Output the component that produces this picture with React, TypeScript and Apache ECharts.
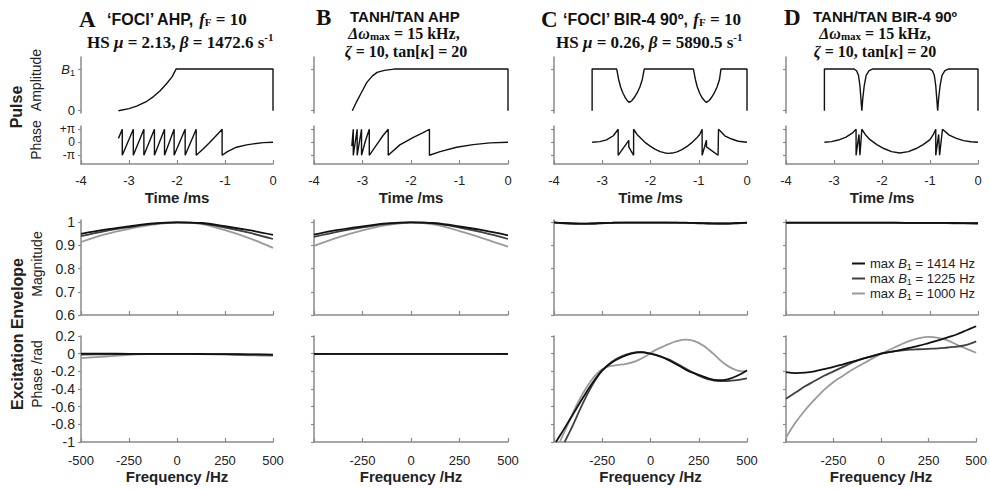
import React, { useEffect, useRef } from 'react';
import * as echarts from 'echarts';

const SANS = '"Liberation Sans", Arial, sans-serif';
const SERIF = '"Liberation Serif", "Times New Roman", serif';

// ---- axis ticks ----
const timeTicks = [-4, -3, -2, -1, 0];
const freqTicks = [-500, -250, 0, 250, 500];
const freqLabelsInner = [-250, 0, 250, 500];
const ampTicks = [0, 1];
const pulsePhaseTicks = [-1, 0, 1]; // units of pi
const magTicks = [0.6, 0.7, 0.8, 0.9, 1];
const ephTicks = [-1, -0.8, -0.6, -0.4, -0.2, 0, 0.2];

const names = ['max B1 = 1414 Hz', 'max B1 = 1225 Hz', 'max B1 = 1000 Hz'];
const colors = ['#111111', '#404040', '#9a9a9a'];

// ---- pulse shapes: [time ms, amplitude / B1] and [time ms, phase / pi] ----
const ampA = [[-3.22, 0], [-3.0, 0.05], [-2.84, 0.11], [-2.65, 0.21], [-2.49, 0.34], [-2.35, 0.48], [-2.21, 0.66], [-2.1, 0.82], [-2.02, 1], [0, 1], [0, 0]];
const phA = [[-3.22, 0.3], [-3.14, 1], [-3.14, -1], [-2.91, 1], [-2.91, -1], [-2.69, 1], [-2.69, -1], [-2.47, 1], [-2.47, -1], [-2.26, 1], [-2.26, -1], [-2.06, 1], [-2.06, -1], [-1.83, 1], [-1.83, -1], [-1.6, 1], [-1.6, -1], [-1.45, -0.5], [-1.33, -0.05], [-1.2, 0.45], [-1.06, 1], [-1.06, -1], [-0.95, -0.72], [-0.76, -0.38], [-0.55, -0.2], [-0.41, -0.12], [-0.2, -0.03], [0, 0]];
const ampB = [[-3.21, 0], [-3.12, 0.22], [-3.03, 0.42], [-2.91, 0.68], [-2.8, 0.83], [-2.7, 0.92], [-2.55, 0.97], [-2.35, 1], [0, 1], [0, 0]];
const phB = [[-3.22, -0.3], [-3.19, 1], [-3.19, -1], [-3.11, 1], [-3.11, -1], [-3.02, 1], [-3.02, -1], [-2.94, 0.1], [-2.86, 1], [-2.86, -1], [-2.71, -0.2], [-2.58, 0.5], [-2.47, 1], [-2.47, -1], [-2.23, -0.2], [-1.95, 0.38], [-1.75, 0.74], [-1.62, 1], [-1.62, -1], [-1.4, -0.72], [-1.06, -0.38], [-0.72, -0.18], [-0.37, -0.05], [0, 0]];
const ampC = [[-3.21, 0], [-3.21, 1], [-2.7, 1], [-2.66, 0.75], [-2.62, 0.57], [-2.57, 0.42], [-2.52, 0.31], [-2.48, 0.24], [-2.44, 0.2], [-2.39, 0.24], [-2.34, 0.31], [-2.28, 0.42], [-2.22, 0.57], [-2.17, 0.75], [-2.13, 1], [-1.11, 1], [-1.07, 0.75], [-1.03, 0.57], [-0.98, 0.42], [-0.93, 0.31], [-0.88, 0.24], [-0.84, 0.2], [-0.79, 0.24], [-0.74, 0.31], [-0.68, 0.42], [-0.62, 0.57], [-0.57, 0.75], [-0.54, 1], [0, 1], [0, 0]];
const phC = [[-3.21, 0], [-3.05, 0.05], [-2.91, 0.18], [-2.77, 0.5], [-2.67, 1], [-2.67, -1], [-2.45, 0.15], [-2.45, -0.35], [-2.35, -1], [-2.35, 1], [-2.28, 0.6], [-2.2, 0.3], [-2.1, -0.05], [-2.0, -0.32], [-1.9, -0.55], [-1.8, -0.72], [-1.7, -0.82], [-1.63, -0.85], [-1.55, -0.83], [-1.45, -0.74], [-1.35, -0.57], [-1.25, -0.34], [-1.15, -0.05], [-1.05, 0.3], [-0.98, 0.6], [-0.93, 1], [-0.93, -1], [-0.84, 0.15], [-0.84, -0.35], [-0.6, -1], [-0.59, 1], [-0.46, 0.5], [-0.32, 0.25], [-0.18, 0.08], [0, 0]];
const ampD = [[-3.2, 0], [-3.2, 1], [-2.58, 1], [-2.53, 0.96], [-2.49, 0.85], [-2.46, 0.6], [-2.44, 0.3], [-2.42, 0], [-2.4, 0.3], [-2.37, 0.6], [-2.33, 0.85], [-2.27, 0.96], [-2.2, 1], [-1.0, 1], [-0.95, 0.96], [-0.91, 0.85], [-0.88, 0.6], [-0.86, 0.3], [-0.84, 0], [-0.82, 0.3], [-0.79, 0.6], [-0.75, 0.85], [-0.69, 0.96], [-0.62, 1], [0, 1], [0, 0]];
const phD = [[-3.2, 0], [-3.05, 0.05], [-2.91, 0.17], [-2.75, 0.4], [-2.62, 0.7], [-2.54, 1], [-2.54, -1], [-2.48, 0.6], [-2.46, -1], [-2.42, 1], [-2.35, 0.6], [-2.25, 0.2], [-2.1, -0.2], [-1.95, -0.5], [-1.8, -0.72], [-1.63, -0.82], [-1.45, -0.72], [-1.3, -0.5], [-1.15, -0.2], [-1.0, 0.2], [-0.93, 0.6], [-0.88, 1], [-0.88, -1], [-0.82, 0.6], [-0.8, -1], [-0.74, 1], [-0.6, 0.55], [-0.45, 0.3], [-0.3, 0.13], [-0.15, 0.04], [0, 0]];

// ---- excitation envelope ----
const freq9 = [-500, -375, -250, -125, 0, 125, 250, 375, 500];
const freq21 = [-500, -450, -400, -350, -300, -250, -200, -150, -100, -50, 0, 50, 100, 150, 200, 250, 300, 350, 400, 450, 500];

const magA1414 = [0.95, 0.968, 0.982, 0.995, 1.0, 0.997, 0.983, 0.966, 0.946];
const magA1225 = [0.94, 0.962, 0.979, 0.993, 1.0, 0.995, 0.977, 0.955, 0.928];
const magA1000 = [0.915, 0.948, 0.972, 0.99, 0.999, 0.993, 0.966, 0.932, 0.89];
const magB1414 = [0.947, 0.967, 0.982, 0.995, 1.0, 0.996, 0.982, 0.965, 0.944];
const magB1225 = [0.937, 0.96, 0.978, 0.993, 1.0, 0.995, 0.977, 0.955, 0.928];
const magB1000 = [0.898, 0.935, 0.965, 0.988, 0.999, 0.99, 0.962, 0.93, 0.895];
const magC1414 = [1.0, 0.997, 0.995, 0.994, 0.995, 0.997, 0.998, 0.999, 0.999, 0.999, 0.999, 0.999, 0.999, 0.999, 0.998, 0.997, 0.996, 0.995, 0.995, 0.997, 0.999];
const magC1225 = [0.999, 0.996, 0.994, 0.993, 0.994, 0.996, 0.998, 0.999, 0.999, 0.999, 0.999, 0.999, 0.999, 0.998, 0.997, 0.996, 0.995, 0.994, 0.994, 0.996, 0.998];
const magC1000 = [0.999, 0.997, 0.995, 0.995, 0.996, 0.997, 0.998, 0.998, 0.999, 0.999, 0.999, 0.999, 0.998, 0.998, 0.997, 0.996, 0.995, 0.995, 0.995, 0.996, 0.998];
const magD1414 = [0.999, 0.999, 0.999, 0.999, 0.999, 0.998, 0.998, 0.997, 0.996];
const magD1225 = [0.998, 0.998, 0.998, 0.998, 0.998, 0.997, 0.997, 0.996, 0.995];
const magD1000 = [0.999, 0.999, 0.999, 0.999, 0.999, 0.998, 0.998, 0.997, 0.997];

const ephA1414 = [0, 0, -0.002, -0.003, -0.003, -0.004, -0.005, -0.008, -0.01];
const ephA1225 = [-0.01, -0.007, -0.004, -0.002, -0.002, -0.003, -0.006, -0.01, -0.014];
const ephA1000 = [-0.05, -0.032, -0.012, -0.005, -0.003, -0.005, -0.01, -0.018, -0.025];
const ephB1414 = [-0.002, -0.002, -0.002, -0.002, -0.002, -0.002, -0.002, -0.002, -0.003];
const ephB1225 = [-0.003, -0.003, -0.002, -0.002, -0.002, -0.002, -0.002, -0.003, -0.003];
const ephB1000 = [-0.004, -0.003, -0.003, -0.002, -0.002, -0.002, -0.003, -0.003, -0.004];
const ephC1414 = [[-490, -1], [-450, -0.86], [-400, -0.68], [-350, -0.5], [-300, -0.33], [-250, -0.19], [-200, -0.1], [-150, -0.04], [-100, 0.0], [-50, 0.015], [0, 0.0], [50, -0.03], [100, -0.08], [150, -0.14], [200, -0.2], [250, -0.24], [300, -0.28], [350, -0.3], [400, -0.29], [450, -0.25], [500, -0.19]];
const ephC1225 = [[-445, -1], [-400, -0.8], [-350, -0.56], [-300, -0.35], [-250, -0.19], [-200, -0.09], [-150, -0.03], [-100, 0.005], [-50, 0.02], [0, 0.0], [50, -0.03], [100, -0.07], [150, -0.13], [200, -0.19], [250, -0.25], [300, -0.29], [350, -0.31], [400, -0.31], [450, -0.3], [500, -0.28]];
const ephC1000 = [[-470, -1], [-420, -0.76], [-375, -0.55], [-325, -0.36], [-275, -0.22], [-225, -0.15], [-175, -0.13], [-125, -0.115], [-75, -0.085], [-25, -0.03], [25, 0.04], [75, 0.09], [125, 0.135], [175, 0.16], [225, 0.145], [275, 0.09], [325, 0.0], [375, -0.1], [425, -0.17], [475, -0.2], [500, -0.19]];
const ephD1414 = [-0.21, -0.22, -0.215, -0.2, -0.175, -0.15, -0.12, -0.09, -0.06, -0.03, 0, 0.02, 0.04, 0.065, 0.09, 0.12, 0.15, 0.185, 0.22, 0.265, 0.31];
const ephD1225 = [-0.51, -0.44, -0.37, -0.31, -0.25, -0.2, -0.15, -0.1, -0.06, -0.03, 0, 0.02, 0.035, 0.045, 0.05, 0.055, 0.06, 0.07, 0.08, 0.1, 0.14];
const ephD1000 = [-0.95, -0.78, -0.64, -0.52, -0.41, -0.32, -0.25, -0.18, -0.12, -0.06, 0, 0.05, 0.1, 0.145, 0.175, 0.19, 0.18, 0.15, 0.1, 0.055, 0.01];

// ---- layout ----
const cols = [
  { left: 81, width: 192 },
  { left: 314, width: 194 },
  { left: 554, width: 193 },
  { left: 786, width: 192 },
];
const rows = [
  { top: 57, height: 56 },
  { top: 126, height: 38 },
  { top: 220, height: 95 },
  { top: 336, height: 106 },
];

const AXIS = '#8a8a8a';
const LABEL = '#222';

function zip(xs: number[], ys: number[]) {
  return xs.map((x, i) => [x, ys[i]]);
}

let measureCtx: CanvasRenderingContext2D | null = null;
function textWidth(t: string, font: string) {
  if (!measureCtx) measureCtx = document.createElement('canvas').getContext('2d');
  if (!measureCtx) return t.length * 8;
  measureCtx.font = font;
  return measureCtx.measureText(t).width;
}

type Run = [string, string, number];
function runs(x: number, y: number, parts: Run[], align: 'left' | 'center') {
  const widths = parts.map((p) => textWidth(p[0], p[1]));
  const total = widths.reduce((a, b) => a + b, 0);
  let cur = align === 'center' ? x - total / 2 : x;
  return parts.map((p, i) => {
    const el = {
      type: 'text', x: cur, y: y + p[2], silent: true,
      style: { text: p[0], font: p[1], fill: '#111', align: 'left', textAlign: 'left', verticalAlign: 'middle', textVerticalAlign: 'middle' },
    };
    cur += widths[i];
    return el;
  });
}

function buildOption() {
  const grid: any[] = [];
  const xAxis: any[] = [];
  const yAxis: any[] = [];
  const series: any[] = [];

  cols.forEach((c, ci) => {
    rows.forEach((r, ri) => {
      const gi = ci * 4 + ri;
      grid.push({ left: c.left, top: r.top, width: c.width, height: r.height, containLabel: false });
      const isTime = ri < 2;
      const xa: any = {
        type: 'value',
        gridIndex: gi,
        min: isTime ? timeTicks[0] : freqTicks[0],
        max: isTime ? timeTicks[timeTicks.length - 1] : freqTicks[freqTicks.length - 1],
        interval: isTime ? 1 : 250,
        show: ri !== 0,
        axisLine: { show: true, onZero: false, lineStyle: { color: AXIS, width: 1.5 } },
        axisTick: { show: true, inside: true, length: 4, lineStyle: { color: AXIS, width: 1.2 } },
        splitLine: { show: false },
        axisLabel: { show: ri === 1 || ri === 3, color: LABEL, fontSize: 13, fontFamily: SANS, margin: 10 },
      };
      if (ri === 1) {
        xa.name = 'Time /ms';
        xa.nameLocation = 'middle';
        xa.nameGap = 26;
        xa.nameTextStyle = { fontFamily: SANS, fontWeight: 'bold', fontSize: 15, color: LABEL };
      }
      if (ri === 3) {
        xa.name = 'Frequency /Hz';
        xa.nameLocation = 'middle';
        xa.nameGap = 27;
        xa.nameTextStyle = { fontFamily: SANS, fontWeight: 'bold', fontSize: 15, color: LABEL };
        xa.axisLabel.margin = 12;
        xa.axisTick.customValues = freqTicks;
        xa.axisLabel.customValues = ci === 0 ? freqTicks : freqLabelsInner;
      }
      if (ri === 2) {
        xa.axisLabel.show = false;
      }
      xAxis.push(xa);

      const ya: any = {
        type: 'value',
        gridIndex: gi,
        axisLine: { show: true, onZero: false, lineStyle: { color: AXIS, width: 1.5 } },
        axisTick: { show: true, inside: false, length: 3, lineStyle: { color: AXIS, width: 1.2 } },
        splitLine: { show: false },
        axisLabel: { show: ci === 0, color: LABEL, fontSize: 13, fontFamily: SANS, margin: 6 },
      };
      if (ri === 0) {
        ya.min = -0.055; ya.max = 1.29;
        ya.axisTick.customValues = ampTicks;
        ya.axisLabel.customValues = ampTicks;
        ya.axisLabel.formatter = (v: number) => (v === 1 ? '{i|B}{s|1}' : '0');
        ya.axisLabel.rich = {
          i: { fontStyle: 'italic', fontSize: 13, fontFamily: SANS, color: LABEL },
          s: { fontSize: 9, fontFamily: SANS, color: LABEL, padding: [7, 0, 0, 0] },
        };
      } else if (ri === 1) {
        ya.min = -1.67; ya.max = 1.25;
        ya.axisTick.customValues = pulsePhaseTicks;
        ya.axisLabel.customValues = pulsePhaseTicks;
        ya.axisLabel.fontSize = 12;
        ya.axisLabel.lineHeight = 12;
        ya.axisLabel.formatter = (v: number) => (v === 1 ? '+π' : v === -1 ? '-π' : '0');
      } else if (ri === 2) {
        ya.min = 0.6; ya.max = 1.01;
        ya.axisTick.customValues = magTicks;
        ya.axisLabel.customValues = magTicks;
        ya.axisLabel.formatter = (v: number) => String(Math.round(v * 10) / 10);
        ya.axisLabel.fontSize = 14;
      } else {
        ya.min = -1; ya.max = 0.2;
        ya.axisTick.customValues = ephTicks;
        ya.axisLabel.customValues = ephTicks;
        ya.axisLabel.formatter = (v: number) => String(Math.round(v * 10) / 10);
        ya.axisLabel.fontSize = 14;
        ya.axisLabel.lineHeight = 15;
      }
      yAxis.push(ya);
    });
  });

  const pulse = (data: number[][], gi: number) => ({
    type: 'line', xAxisIndex: gi, yAxisIndex: gi, data, symbol: 'none', clip: false, silent: true,
    lineStyle: { color: '#111', width: 1.4 }, itemStyle: { color: '#111' },
  });
  const env = (data: number[][], gi: number, k: number) => ({
    type: 'line', name: names[k], xAxisIndex: gi, yAxisIndex: gi, data, symbol: 'none', smooth: 0.35, clip: false, silent: true,
    lineStyle: { color: colors[k], width: 1.8 }, itemStyle: { color: colors[k] },
  });

  const pulses = [[ampA, phA], [ampB, phB], [ampC, phC], [ampD, phD]];
  pulses.forEach((p, ci) => {
    series.push(pulse(p[0], ci * 4));
    series.push(pulse(p[1], ci * 4 + 1));
  });

  const mags = [
    [zip(freq9, magA1414), zip(freq9, magA1225), zip(freq9, magA1000)],
    [zip(freq9, magB1414), zip(freq9, magB1225), zip(freq9, magB1000)],
    [zip(freq21, magC1414), zip(freq21, magC1225), zip(freq21, magC1000)],
    [zip(freq9, magD1414), zip(freq9, magD1225), zip(freq9, magD1000)],
  ];
  const ephs = [
    [zip(freq9, ephA1414), zip(freq9, ephA1225), zip(freq9, ephA1000)],
    [zip(freq9, ephB1414), zip(freq9, ephB1225), zip(freq9, ephB1000)],
    [ephC1414, ephC1225, ephC1000],
    [zip(freq21, ephD1414), zip(freq21, ephD1225), zip(freq21, ephD1000)],
  ];
  [2, 1, 0].forEach((k) => {
    mags.forEach((m, ci) => series.push(env(m[k], ci * 4 + 2, k)));
    ephs.forEach((e, ci) => series.push(env(e[k], ci * 4 + 3, k)));
  });

  const S15 = `bold 15px ${SANS}`;
  const S16 = `bold 16px ${SANS}`;
  const F17 = `bold 17px ${SERIF}`;
  const FI17 = `italic bold 17px ${SERIF}`;
  const F16 = `bold 16px ${SERIF}`;
  const FI16 = `italic bold 16px ${SERIF}`;
  const F11 = `bold 11px ${SERIF}`;
  const LET = `bold 23px ${SERIF}`;

  const vtxt = (x: number, y: number, t: string, font: string) => ({
    type: 'text', x, y, rotation: Math.PI / 2, silent: true,
    style: { text: t, fill: '#222', font, align: 'center', textAlign: 'center', verticalAlign: 'middle', textVerticalAlign: 'middle' },
  });

  const graphic: any[] = [
    ...runs(79, 19, [['A', LET, 0]], 'left'),
    ...runs(107, 19, [['‘FOCI’ AHP, ', S16, 0], ['f', FI17, 0], ['F', F11, 3], [' = 10', F17, 0]], 'left'),
    ...runs(87, 42, [['HS ', F17, 0], ['μ', FI17, 0], [' = 2.13, ', F17, 0], ['β', FI17, 0], [' = 1472.6 s', F17, 0], ['-1', F11, -5]], 'left'),
    ...runs(316, 17, [['B', LET, 0]], 'left'),
    ...runs(350, 16.5, [['TANH/TAN AHP', S15, 0]], 'left'),
    ...runs(404, 33.5, [['Δω', FI16, 0], ['max', F11, 2.5], [' = 15 kHz,', F16, 0]], 'center'),
    ...runs(406, 51, [['ζ', FI16, 0], [' = 10, tan[', F16, 0], ['κ', FI16, 0], ['] = 20', F16, 0]], 'center'),
    ...runs(541, 19, [['C', LET, 0]], 'left'),
    ...runs(563, 19, [['‘FOCI’ BIR-4 90º, ', S16, 0], ['f', FI17, 0], ['F', F11, 3], [' = 10', F17, 0]], 'left'),
    ...runs(556, 42, [['HS ', F17, 0], ['μ', FI17, 0], [' = 0.26, ', F17, 0], ['β', FI17, 0], [' = 5890.5 s', F17, 0], ['-1', F11, -5]], 'left'),
    ...runs(784, 17, [['D', LET, 0]], 'left'),
    ...runs(813, 16.5, [['TANH/TAN BIR-4 90º', S15, 0]], 'left'),
    ...runs(875, 33.5, [['Δω', FI16, 0], ['max', F11, 2.5], [' = 15 kHz,', F16, 0]], 'center'),
    ...runs(875, 51, [['ζ', FI16, 0], [' = 10, tan[', F16, 0], ['κ', FI16, 0], ['] = 20', F16, 0]], 'center'),
    vtxt(16, 107, 'Pulse', `bold 16px ${SANS}`),
    vtxt(36, 80, 'Amplitude', `14px ${SANS}`),
    vtxt(36, 140, 'Phase', `14px ${SANS}`),
    vtxt(17, 334, 'Excitation Envelope', `bold 16px ${SANS}`),
    vtxt(37, 264, 'Magnitude', `14px ${SANS}`),
    vtxt(37, 374, 'Phase /rad', `14px ${SANS}`),
  ];

  return {
    animation: false,
    backgroundColor: '#ffffff',
    grid,
    xAxis,
    yAxis,
    series,
    graphic,
    legend: {
      show: true,
      orient: 'vertical',
      left: 847,
      top: 251,
      itemWidth: 13,
      itemHeight: 2,
      itemGap: 0,
      icon: 'rect',
      selectedMode: false,
      data: names,
      formatter: (name: string) => {
        const m = name.match(/\d+ Hz/);
        return `max {i|B}{s|1} = ${m ? m[0] : ''}`;
      },
      textStyle: {
        fontSize: 13,
        fontFamily: SANS,
        color: '#222',
        lineHeight: 14,
        rich: {
          i: { fontStyle: 'italic', fontSize: 13, fontFamily: SANS, color: '#222', lineHeight: 14 },
          s: { fontSize: 9, fontFamily: SANS, color: '#222', padding: [6, 0, 0, 0], lineHeight: 10 },
        },
      },
    },
  };
}

export default function App() {
  const ref = useRef<HTMLDivElement>(null);
  useEffect(() => {
    if (!ref.current) return;
    const chart = echarts.init(ref.current, undefined, { renderer: 'svg', width: 990, height: 489 });
    chart.setOption(buildOption() as any);
    return () => chart.dispose();
  }, []);
  return (
    <div
      ref={ref}
      style={{ position: 'absolute', left: 0, top: 0, width: 990, height: 489, background: '#fff' }}
    />
  );
}
